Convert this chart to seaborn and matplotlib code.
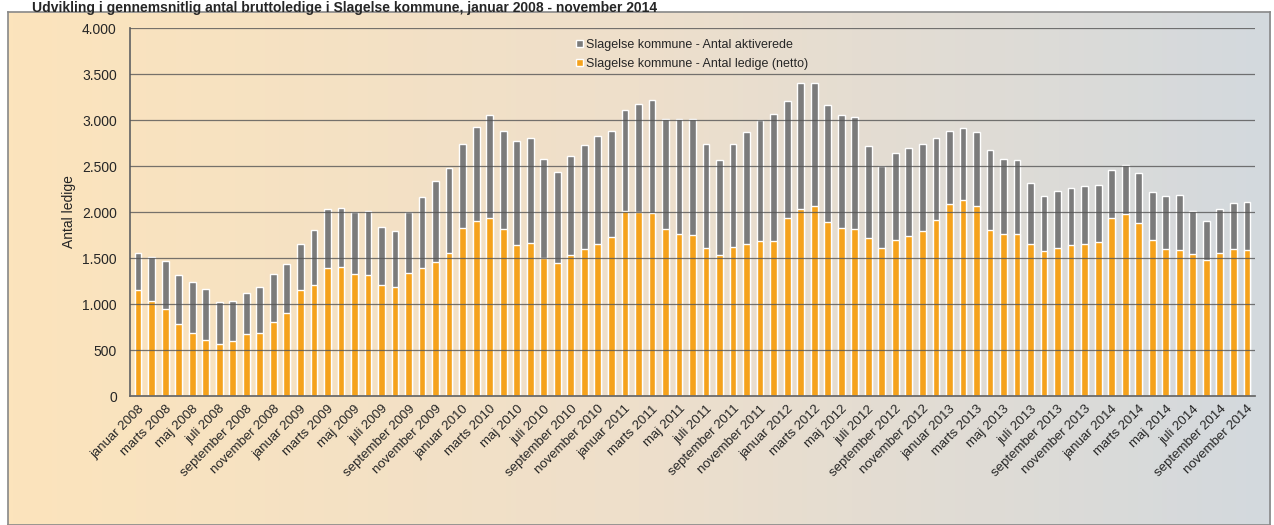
import numpy as np
import pandas as pd
import matplotlib
matplotlib.use("Agg")
import matplotlib.pyplot as plt
import seaborn as sns
from matplotlib.colors import LinearSegmentedColormap

months = ["januar", "februar", "marts", "april", "maj", "juni", "juli", "august",
          "september", "oktober", "november", "december"]
years = [2008, 2009, 2010, 2011, 2012, 2013, 2014]

total = [1550,1510,1470,1310,1240,1160,1020,1030,1120,1180,1330,1440,
         1650,1800,2030,2040,2000,2010,1840,1790,2000,2160,2340,2480,
         2740,2920,3050,2880,2770,2800,2580,2440,2610,2730,2830,2880,
         3110,3170,3220,3010,3010,3010,2740,2560,2740,2870,3000,3060,
         3210,3400,3400,3160,3050,3030,2720,2500,2640,2700,2740,2800,
         2880,2910,2870,2670,2580,2560,2310,2170,2230,2260,2280,2290,
         2460,2510,2420,2220,2170,2180,2010,1900,2030,2100,2110]
netto = [1150,1030,950,780,690,610,570,600,670,680,800,900,
         1150,1210,1390,1400,1330,1310,1210,1180,1340,1390,1460,1550,
         1830,1900,1940,1810,1640,1660,1500,1450,1530,1600,1650,1730,
         2010,2000,1990,1810,1760,1750,1610,1530,1620,1650,1680,1680,
         1930,2030,2060,1890,1830,1820,1720,1610,1700,1740,1790,1910,
         2090,2130,2060,1800,1760,1760,1650,1580,1610,1640,1650,1670,
         1940,1980,1880,1700,1600,1590,1540,1480,1550,1600,1590]

labels = [f"{m} {y}" for y in years for m in months][:len(total)]
df = pd.DataFrame({"maaned": labels, "total": total, "netto": netto})

sns.set_theme(style="white")
plt.rcParams['font.family'] = ['Liberation Sans', 'DejaVu Sans']

fig = plt.figure(figsize=(12.74, 5.25), dpi=100)
bg = fig.add_axes([8/1274, 0, 1262/1274, 1 - 12/525], zorder=0)
cmap = LinearSegmentedColormap.from_list("g", ["#FCE4BC", "#EEDFCB", "#D3D9DE"])
bg.imshow(np.linspace(0, 1, 256)[None, :], aspect="auto", cmap=cmap, extent=[0, 1, 0, 1])
bg.set_xticks([]); bg.set_yticks([])
for s in bg.spines.values():
    s.set_color("#888888"); s.set_linewidth(1.2)

ax = fig.add_axes([130/1274, 1 - 396/525, 1125/1274, 368/525], zorder=1)
ax.patch.set_alpha(0)
sns.barplot(data=df, x="maaned", y="total", color="#7B7B7B", width=0.5,
            saturation=1, ax=ax, label="Slagelse kommune - Antal aktiverede")
sns.barplot(data=df, x="maaned", y="netto", color="#F5A21C", width=0.5,
            saturation=1, ax=ax, label="Slagelse kommune - Antal ledige (netto)")
ax.set_ylim(0, 4000)
ax.set_xlim(-0.6, len(total) - 0.4)
ax.set_yticks(range(0, 4001, 500))
ax.set_yticklabels([f"{v:,}".replace(",", ".") for v in range(0, 4001, 500)], fontsize=10)
for v in range(500, 4001, 500):
    ax.axhline(v, color="#555555", linewidth=0.9, alpha=0.8, zorder=5)
ax.set_xticks(range(0, len(total), 2))
ax.set_xticklabels(labels[::2], rotation=45, ha="right", rotation_mode="anchor", fontsize=9.5)
ax.tick_params(axis="x", length=3, pad=2)
ax.set_xlabel("")
ax.set_ylabel("Antal ledige", fontsize=10)
for s in ["top", "right"]:
    ax.spines[s].set_visible(False)
for s in ["left", "bottom"]:
    ax.spines[s].set_color("#666666")
leg = ax.legend(loc="upper center", bbox_to_anchor=(0.5, 1.0), frameon=False,
                fontsize=9, handlelength=0.5, handleheight=0.5, handletextpad=0.3)
leg.set_zorder(6)
fig.text(0.025, 0.985, "Udvikling i gennemsnitlig antal bruttoledige i Slagelse kommune, januar 2008 - november 2014",
         fontsize=10, fontweight="bold", va="center", ha="left")
fig.savefig("out.png", dpi=100)
